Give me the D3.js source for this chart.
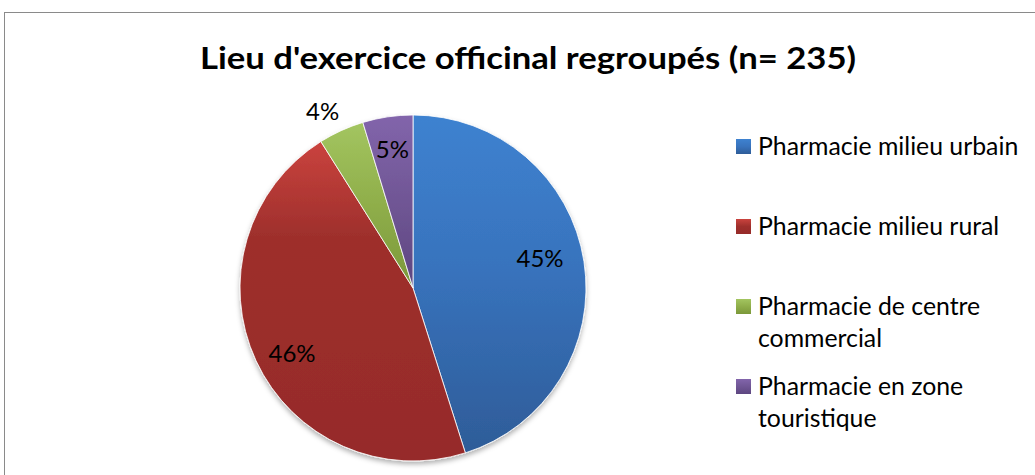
<!DOCTYPE html>
<html>
<head>
<meta charset="utf-8">
<script src="https://cdn.jsdelivr.net/npm/d3@7"></script>
<style>
  body { margin: 0; background: #fff; }
  text { font-family: Lato, "Open Sans", sans-serif; }
</style>
</head>
<body>
<div id="chart"></div>
<script>
// data
const categories = ['Pharmacie milieu urbain', 'Pharmacie milieu rural',
                    'Pharmacie de centre commercial', 'Pharmacie en zone touristique'];
const counts = [106, 108, 10, 11];
const pctLabels = ['45%', '46%', '4%', '5%'];
const legendLines = [['Pharmacie milieu urbain'], ['Pharmacie milieu rural'],
                     ['Pharmacie de centre', 'commercial'], ['Pharmacie en zone', 'touristique']];
const colorsTop = ['#3e82d0', '#ca433e', '#a3c560', '#8265ab'];
const colorsMid = ['#3873bd', '#9e2f2c', '#8fae4a', '#705695'];
const colorsBottom = ['#2e5c98', '#962b29', '#7b983a', '#5d4680'];

const W = 1035, H = 475;
const svg = d3.select('#chart').append('svg')
  .attr('width', W).attr('height', H);

// frame
svg.append('rect').attr('x', 4.5).attr('y', 12.5)
  .attr('width', W + 10).attr('height', H + 10)
  .attr('fill', '#fff').attr('stroke', '#8a8a8a').attr('stroke-width', 1);

svg.append('text')
  .attr('x', 528).attr('y', 69)
  .attr('text-anchor', 'middle')
  .attr('font-size', 30).attr('font-weight', 'bold')
  .attr('textLength', 656).attr('lengthAdjust', 'spacingAndGlyphs')
  .text("Lieu d'exercice officinal regroupés (n= 235)");

const defs = svg.append('defs');
function grad(id, i, midOff) {
  const g = defs.append('linearGradient').attr('id', id)
    .attr('x1', 0).attr('y1', 0).attr('x2', 0).attr('y2', 1);
  g.append('stop').attr('offset', '0%').attr('stop-color', colorsTop[i]);
  g.append('stop').attr('offset', midOff).attr('stop-color', colorsMid[i]);
  g.append('stop').attr('offset', '100%').attr('stop-color', colorsBottom[i]);
}
const midOffsets = ['45%', '30%', '50%', '50%'];
colorsTop.forEach((c, i) => { grad('g' + i, i, midOffsets[i]); grad('lg' + i, i, '50%'); });

const flt = defs.append('filter').attr('id', 'sh').attr('x', '-10%').attr('y', '-10%')
  .attr('width', '120%').attr('height', '120%');
flt.append('feDropShadow').attr('dx', 0).attr('dy', 3).attr('stdDeviation', 2.5)
  .attr('flood-color', '#000').attr('flood-opacity', 0.3);

const cx = 413, cy = 288, r = 173;
const pie = d3.pie().sort(null).value(d => d);
const arcs = pie(counts);
const arc = d3.arc().innerRadius(0).outerRadius(r);

const g = svg.append('g').attr('transform', `translate(${cx},${cy})`);
g.append('g').attr('filter', 'url(#sh)')
  .selectAll('path').data(arcs).join('path')
  .attr('d', arc)
  .attr('fill', (d, i) => `url(#g${i})`)
  .attr('stroke', '#fff').attr('stroke-width', 0.8);

// label placement (fraction of radius plus small nudges)
const labelR = [0.743, 0.771, 1.12, 0.812];
const nudgeX = [0, 0, -10, 0];
const nudgeY = [-10, 9, 0, 0];
g.selectAll('text.pct').data(arcs).join('text')
  .attr('class', 'pct')
  .attr('transform', (d, i) => {
    const a = (d.startAngle + d.endAngle) / 2;
    const rr = r * labelR[i];
    return `translate(${Math.sin(a) * rr + nudgeX[i]},${-Math.cos(a) * rr + nudgeY[i]})`;
  })
  .attr('text-anchor', 'middle').attr('dy', '0.36em')
  .attr('font-size', 24).attr('fill', '#000')
  .text((d, i) => pctLabels[i]);

// legend
const legendY = [146, 226, 306, 386];
const lg = svg.append('g');
legendLines.forEach((lines, i) => {
  lg.append('rect').attr('x', 736).attr('y', legendY[i] - 7)
    .attr('width', 15).attr('height', 15)
    .attr('fill', `url(#lg${i})`);
  lines.forEach((t, j) => {
    lg.append('text').attr('x', 758).attr('y', legendY[i] + j * 32)
      .attr('dy', '0.36em').attr('font-size', 24.8).attr('fill', '#000')
      .text(t);
  });
});
</script>
</body>
</html>
